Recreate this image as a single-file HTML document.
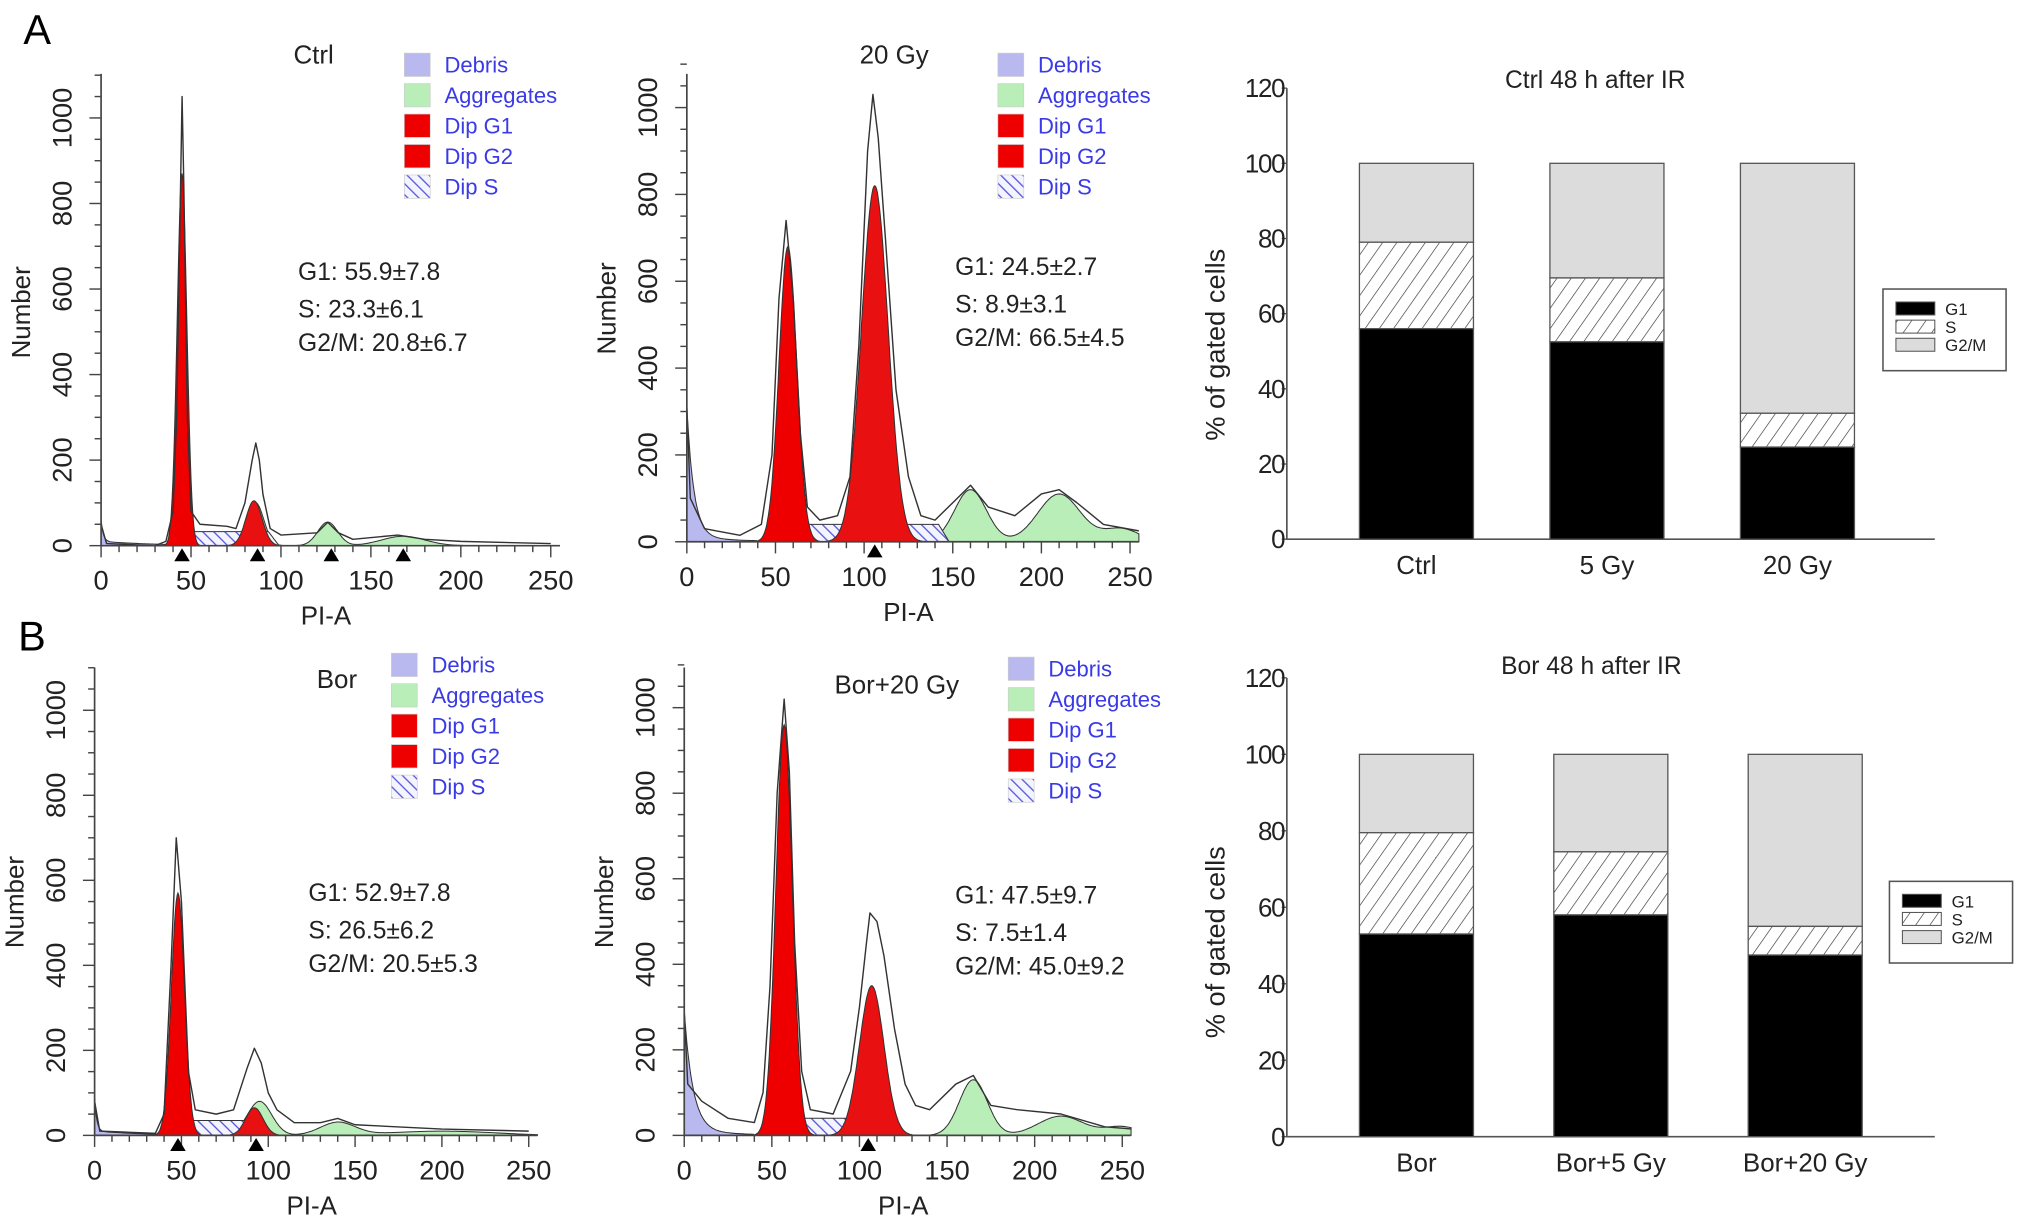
<!DOCTYPE html>
<html><head><meta charset="utf-8"><style>
html,body{margin:0;padding:0;background:#fff}
svg{display:block}
text{font-family:"Liberation Sans",Arial,sans-serif}
</style></head><body>
<svg id="fig" width="2032" height="1230" viewBox="0 0 1568 949" preserveAspectRatio="none" xmlns="http://www.w3.org/2000/svg">
<defs>
<pattern id="hatchBlue" patternUnits="userSpaceOnUse" width="6" height="6" patternTransform="rotate(-45)">
<rect width="6" height="6" fill="#f4f4ff"/><line x1="0" y1="0" x2="0" y2="6" stroke="#5555dd" stroke-width="2"/></pattern>
<pattern id="hatchBlack" patternUnits="userSpaceOnUse" width="9" height="9" patternTransform="rotate(35)">
<rect width="9" height="9" fill="#fff"/><line x1="0" y1="0" x2="0" y2="9" stroke="#333" stroke-width="1"/></pattern>
</defs>
<text x="18" y="34" font-size="32">A</text>
<text x="14" y="502" font-size="32">B</text>
</svg>
<script>
// ---- Histogram data (PI-A channel, counts) ----
const ctrlX = [0,3,30,36,40,42,44,45,46,48,50,55,70,75,80,84,86,88,90,94,100,120,126,132,140,165,180,200,250];
const ctrlY = [50,5,0,10,80,300,800,1050,850,300,80,50,45,40,100,200,240,200,120,40,25,30,55,30,15,25,15,10,5];
const gy20X = [0,2,10,30,42,48,52,56,60,64,68,75,85,92,97,102,105,108,112,118,125,132,140,150,160,170,185,200,210,220,235,255];
const gy20Y = [310,100,30,15,40,200,560,740,560,250,80,50,60,150,450,900,1030,930,700,350,150,60,50,90,130,80,60,110,120,90,40,25];
const borX = [0,3,35,40,44,47,50,54,58,70,80,88,92,96,100,105,115,130,140,150,200,250];
const borY = [80,10,5,50,400,700,550,150,60,50,60,160,205,170,100,60,30,30,40,25,15,10];
const bor20X = [0,2,10,25,40,45,49,53,57,60,63,67,72,85,95,100,104,106,110,114,120,126,132,140,155,165,175,190,215,240,255];
const bor20Y = [290,120,80,40,30,100,350,800,1020,850,450,150,60,50,150,300,450,520,500,420,250,120,70,60,120,140,70,60,50,20,15];
// component fits: [center, height, sd]
const ctrlG1=[45,870,2.7], ctrlG2=[85,105,4.5], ctrlS=[48,82,45], ctrlAgg=[[86,100,4.5],[126,55,5.5],[168,22,12]], ctrlDeb=[50,1.2];
const gy20G1=[57,680,5], gy20G2=[106,820,7.5], gy20S=[62,100,80], gy20Agg=[[160,120,9],[210,110,12],[245,30,10]], gy20Deb=[300,4];
const borG1=[48,570,3.8], borG2=[92,65,5], borS=[52,88,45], borAgg=[[95,80,7],[140,30,10],[200,10,30]], borDeb=[80,1.2];
const bor20G1=[57,960,4.7], bor20G2=[107,350,7], bor20S=[62,100,40], bor20Agg=[[165,130,8],[215,45,13],[250,20,10]], bor20Deb=[280,5];
const histTickLabels=[0,50,100,150,200,250];
const countTickLabels=[0,200,400,600,800,1000];
// ---- Bar chart data (%) ----
const barCatsA=["Ctrl","5 Gy","20 Gy"];
const g1A=[56,52.5,24.5];
const sA=[23,17,9];
const barCatsB=["Bor","Bor+5 Gy","Bor+20 Gy"];
const g1B=[53,58,47.5];
const sB=[26.5,16.5,7.5];
const pctTicks=[0,20,40,60,80,100,120];

const NS="http://www.w3.org/2000/svg";
const svg=document.getElementById('fig');
function mk(tag,attrs,parent,txt){const e=document.createElementNS(NS,tag);for(const k in attrs)e.setAttribute(k,attrs[k]);if(txt!==undefined)e.textContent=txt;(parent||svg).appendChild(e);return e;}
function gauss(x,c){return c[1]*Math.exp(-0.5*((x-c[0])/c[2])**2);}

function histPanel(cfg){
  const g=mk('g',{});
  
  
  const X=v=>cfg.ox+v*cfg.xs, Y=v=>cfg.oy-v*cfg.ys;
  const step=0.5; const xs=[];for(let x=0;x<=255;x+=step)xs.push(x);
  function area(fn,fill,name,stroke){
    let d='M'+X(0)+','+Y(0);xs.forEach(x=>{d+=' L'+X(x).toFixed(1)+','+Y(Math.max(0,fn(x))).toFixed(1);});d+=' L'+X(255)+','+Y(0)+'Z';
    const p=mk('path',{d:d,fill:fill,stroke:stroke||'#333','stroke-width':0.8},g);
    
    
  }
  area(x=>cfg.deb[0]*Math.exp(-x/cfg.deb[1])+(x<40?10*Math.exp(-x/30):0),'#b9b9f0','debris-area');
  area(x=>cfg.agg.reduce((s,c)=>s+gauss(x,c),0),'#b9eeb9','aggregates-area');
  area(x=>{const a=cfg.s[0],b=cfg.s[2]+cfg.s[0];if(x<a-6||x>b+6)return 0;let v=cfg.s[1]*0.4;if(x<a)v*= (x-a+6)/6;if(x>b)v*=(b+6-x)/6;return v;},'url(#hatchBlue)','dip-s-area');
  area(x=>gauss(x,cfg.g1),'#ee0000','dip-g1-area');
  area(x=>gauss(x,cfg.g2),'#e81010','dip-g2-area');
  let d='';cfg.hx.forEach((v,i)=>{d+=(i?' L':'M')+X(v).toFixed(1)+','+Y(cfg.hy[i]).toFixed(1);});
  const o=mk('path',{d:d,fill:'none',stroke:'#333','stroke-width':1.1,'stroke-linejoin':'round'},g);
  
  
  const ax=mk('path',{d:`M${cfg.ox},${cfg.top} V${cfg.oy} H${X(255)}`,fill:'none',stroke:'#444','stroke-width':1.3},g);
  
  
  for(let v=0;v<=250;v+=10){mk('line',{x1:X(v),x2:X(v),y1:cfg.oy,y2:cfg.oy+(v%50===0?9:5),stroke:'#444','stroke-width':1.1},g);}
  for(let v=0;v<=1100;v+=50){mk('line',{x1:cfg.ox-(v%200===0?9:5),x2:cfg.ox,y1:Y(v),y2:Y(v),stroke:'#444','stroke-width':1.1},g);}
  histTickLabels.forEach(v=>{const t=mk('text',{x:X(v),y:cfg.oy+34,'font-size':21,'text-anchor':'middle',fill:'#222'},g,String(v));});
  countTickLabels.forEach(v=>{const t=mk('text',{x:0,y:0,'font-size':21,'text-anchor':'middle',fill:'#222',transform:`translate(${cfg.ox-23},${Y(v)}) rotate(-90)`},g,String(v));});
  cfg.markers.forEach(v=>{const p=mk('path',{d:`M${X(v)-6},${cfg.oy+12} L${X(v)+6},${cfg.oy+12} L${X(v)},${cfg.oy+2}Z`,fill:'#000'},g);});
  let t=mk('text',{x:(cfg.ox+X(250))/2,y:cfg.oy+61,'font-size':20,'text-anchor':'middle',fill:'#222'},g,'PI-A');
  t=mk('text',{x:0,y:0,'font-size':20,'text-anchor':'middle',fill:'#222',transform:`translate(${cfg.ox-55},${cfg.oy-180}) rotate(-90)`},g,'Number');
  t=mk('text',{x:cfg.tx,y:cfg.ty,'font-size':20,'text-anchor':'middle',fill:'#222'},g,cfg.title);
  const lg=mk('g',{},g);
  
  
  const items=[['Debris','#b9b9f0'],['Aggregates','#b9eeb9'],['Dip G1','#ee0000'],['Dip G2','#ee0000'],['Dip S','url(#hatchBlue)']];
  items.forEach((it,i)=>{const y=cfg.ly+i*23.5;mk('rect',{x:cfg.lx,y:y-9,width:20,height:18,fill:it[1],stroke:'#ccc','stroke-width':0.5},lg);
    const tt=mk('text',{x:cfg.lx+31,y:y+6,'font-size':17,fill:'#3a3ae6'},lg,it[0]);});
  cfg.stats.forEach((s,i)=>{const tt=mk('text',{x:cfg.sx,y:cfg.sy+[0,29,55][i],'font-size':19,fill:'#222'},g,s);});
}

histPanel({name:'histogram-ctrl',ox:78,xs:1.388,oy:421,ys:0.33,top:57,hx:ctrlX,hy:ctrlY,g1:ctrlG1,g2:ctrlG2,s:ctrlS,agg:ctrlAgg,deb:ctrlDeb,markers:[45,87,128,168],title:'Ctrl',tx:242,ty:49,lx:312,ly:50,sx:230,sy:216,stats:['G1: 55.9±7.8','S: 23.3±6.1','G2/M: 20.8±6.7']});
histPanel({name:'histogram-20gy',ox:530,xs:1.368,oy:418,ys:0.335,top:57,hx:gy20X,hy:gy20Y,g1:gy20G1,g2:gy20G2,s:gy20S,agg:gy20Agg,deb:gy20Deb,markers:[106],title:'20 Gy',tx:690,ty:49,lx:770,ly:50,sx:737,sy:212,stats:['G1: 24.5±2.7','S: 8.9±3.1','G2/M: 66.5±4.5']});
histPanel({name:'histogram-bor',ox:73,xs:1.34,oy:876,ys:0.328,top:515,hx:borX,hy:borY,g1:borG1,g2:borG2,s:borS,agg:borAgg,deb:borDeb,markers:[48,93],title:'Bor',tx:260,ty:531,lx:302,ly:513,sx:238,sy:695,stats:['G1: 52.9±7.8','S: 26.5±6.2','G2/M: 20.5±5.3']});
histPanel({name:'histogram-bor-20gy',ox:528,xs:1.352,oy:876,ys:0.33,top:515,hx:bor20X,hy:bor20Y,g1:bor20G1,g2:bor20G2,s:bor20S,agg:bor20Agg,deb:bor20Deb,markers:[105],title:'Bor+20 Gy',tx:692,ty:535,lx:778,ly:516,sx:737,sy:697,stats:['G1: 47.5±9.7','S: 7.5±1.4','G2/M: 45.0±9.2']});

function barPanel(cfg){
  const g=mk('g',{});
  
  
  const Y=v=>cfg.oy-v*cfg.ys;
  const ax=mk('path',{d:`M${cfg.ox},${Y(120)} V${cfg.oy} H${cfg.xe}`,fill:'none',stroke:'#555','stroke-width':1.3},g);
  
  
  pctTicks.forEach(v=>{mk('line',{x1:cfg.ox-4,x2:cfg.ox,y1:Y(v),y2:Y(v),stroke:'#555'},g);
    const t=mk('text',{x:cfg.ox-2,y:Y(v)+7,'font-size':20,'text-anchor':'end',fill:'#222','letter-spacing':-1},g,String(v));});
  cfg.cats.forEach((c,i)=>{
    const x=cfg.bx[i],w=88;
    const g1=cfg.g1[i],s=cfg.s[i];
    let r=mk('rect',{x:x,y:Y(100),width:w,height:Y(g1+s)-Y(100),fill:'#dcdcdc',stroke:'#555','stroke-width':1},g);
    
    r=mk('rect',{x:x,y:Y(g1+s),width:w,height:Y(g1)-Y(g1+s),fill:'url(#hatchBlack)',stroke:'#555','stroke-width':1},g);
    
    r=mk('rect',{x:x,y:Y(g1),width:w,height:cfg.oy-Y(g1),fill:'#000',stroke:'#555','stroke-width':1},g);
    
    const t=mk('text',{x:x+w/2,y:cfg.oy+27,'font-size':20,'text-anchor':'middle',fill:'#222'},g,c);
  });
  let t=mk('text',{x:cfg.tx,y:cfg.ty,'font-size':19,'text-anchor':'middle',fill:'#222'},g,cfg.title);
  t=mk('text',{x:0,y:0,'font-size':21,'text-anchor':'middle',fill:'#222',transform:`translate(${cfg.ox-48},${cfg.oy-150}) rotate(-90)`},g,'% of gated cells');
  const lg=mk('g',{},g);
  
  
  mk('rect',{x:cfg.lx,y:cfg.ly,width:95,height:63,fill:'#fff',stroke:'#555','stroke-width':1.2},lg);
  [['G1','#000'],['S','url(#hatchBlack)'],['G2/M','#dcdcdc']].forEach((it,i)=>{const y=cfg.ly+15+i*14;
    mk('rect',{x:cfg.lx+10,y:y-5,width:30,height:10,fill:it[1],stroke:'#555','stroke-width':0.8},lg);
    const tt=mk('text',{x:cfg.lx+48,y:y+5,'font-size':13,fill:'#222'},lg,it[0]);});
}
barPanel({name:'bar-chart-ctrl',ox:993,oy:416,ys:2.9,xe:1493,bx:[1049,1196,1343],cats:barCatsA,g1:g1A,s:sA,title:'Ctrl 48 h after IR',tx:1231,ty:68,lx:1453,ly:223});
barPanel({name:'bar-chart-bor',ox:993,oy:877,ys:2.95,xe:1493,bx:[1049,1199,1349],cats:barCatsB,g1:g1B,s:sB,title:'Bor 48 h after IR',tx:1228,ty:520,lx:1458,ly:680});
</script>
</body></html>
